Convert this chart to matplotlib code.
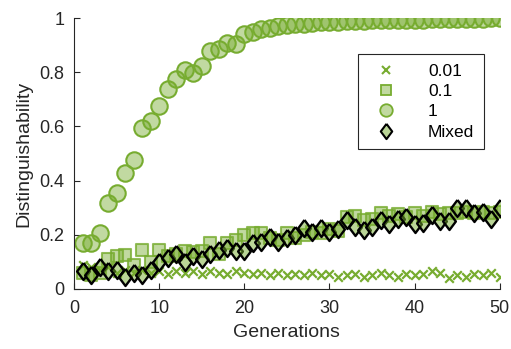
import numpy as np
import matplotlib
matplotlib.use("Agg")
import matplotlib.pyplot as plt
from matplotlib.lines import Line2D

plt.rcParams['font.family'] = ['Liberation Sans', 'DejaVu Sans']

generations = np.arange(1, 51)

# rate 0.01
d001 = [0.09, 0.08, 0.07, 0.08, 0.06, 0.07, 0.06, 0.07, 0.06, 0.065,
        0.055, 0.065, 0.06, 0.065, 0.055, 0.065, 0.06, 0.055, 0.065, 0.06,
        0.055, 0.06, 0.05, 0.06, 0.05, 0.055, 0.05, 0.06, 0.05, 0.055,
        0.045, 0.05, 0.055, 0.045, 0.05, 0.06, 0.05, 0.045, 0.055, 0.05,
        0.055, 0.065, 0.06, 0.04, 0.05, 0.045, 0.055, 0.05, 0.06, 0.045]
# rate 0.1
d01 = [0.06, 0.05, 0.06, 0.11, 0.12, 0.125, 0.09, 0.145, 0.1, 0.145,
       0.12, 0.13, 0.14, 0.135, 0.14, 0.17, 0.13, 0.17, 0.18, 0.2,
       0.205, 0.205, 0.19, 0.18, 0.205, 0.19, 0.2, 0.21, 0.207, 0.22,
       0.215, 0.265, 0.27, 0.255, 0.26, 0.28, 0.27, 0.275, 0.265, 0.28,
       0.27, 0.285, 0.275, 0.28, 0.28, 0.285, 0.28, 0.285, 0.28, 0.285]
# rate 1
d1 = [0.17, 0.17, 0.205, 0.316, 0.355, 0.43, 0.476, 0.593, 0.621, 0.674,
      0.74, 0.774, 0.808, 0.796, 0.823, 0.879, 0.885, 0.909, 0.906, 0.943,
      0.95, 0.96, 0.965, 0.97, 0.975, 0.978, 0.98, 0.983, 0.985, 0.985,
      0.987, 0.99, 0.99, 0.99, 0.992, 0.993, 0.993, 0.993, 0.994, 0.995,
      0.995, 0.996, 0.996, 0.998, 0.997, 0.998, 0.998, 0.998, 0.999, 1.0]
# mixed
dmix = [0.065, 0.05, 0.08, 0.065, 0.07, 0.045, 0.06, 0.05, 0.07, 0.1,
        0.115, 0.13, 0.1, 0.12, 0.11, 0.13, 0.144, 0.15, 0.14, 0.14,
        0.169, 0.175, 0.193, 0.175, 0.19, 0.2, 0.225, 0.21, 0.225, 0.21,
        0.22, 0.255, 0.23, 0.218, 0.23, 0.255, 0.24, 0.26, 0.267, 0.24,
        0.245, 0.273, 0.25, 0.25, 0.298, 0.298, 0.28, 0.285, 0.26, 0.298]

GREEN = (0.467, 0.675, 0.188)
FACE = (0.467, 0.675, 0.188, 0.45)
DIAMOND = [(0, 1), (0.75, 0), (0, -1), (-0.75, 0), (0, 1)]
DARK = '#262626'

fig = plt.figure(figsize=(5.11, 3.49), dpi=100)
ax = fig.add_axes([0.145, 0.172, 0.833, 0.776])

ax.scatter(generations, d001, s=38, marker='x', color=GREEN, linewidths=1.6, zorder=3)
ax.scatter(generations, d01, s=78, marker='s', facecolors=FACE,
           edgecolors=(0.467, 0.675, 0.188, 0.8), linewidths=1.5, zorder=2)
ax.scatter(generations, d1, s=140, marker='o', facecolors=FACE,
           edgecolors=GREEN, linewidths=1.5, zorder=2)
ax.scatter(generations, dmix, s=150, marker=DIAMOND, facecolors=(0.467, 0.675, 0.188, 0.5),
           edgecolors='black', linewidths=1.7, zorder=4)

ax.set_xlim(0, 50)
ax.set_ylim(0, 1)
ax.set_xticks([0, 10, 20, 30, 40, 50])
ax.set_yticks([0, 0.2, 0.4, 0.6, 0.8, 1])
ax.set_yticklabels(['0', '0.2', '0.4', '0.6', '0.8', '1'])
ax.tick_params(direction='in', length=4, width=0.8, colors=DARK, labelsize=13)
ax.tick_params(axis='x', pad=8)
ax.tick_params(axis='y', pad=7)
for side in ['top', 'right']:
    ax.spines[side].set_visible(False)
for side in ['left', 'bottom']:
    ax.spines[side].set_color(DARK)
    ax.spines[side].set_linewidth(0.8)
ax.set_xlabel('Generations', fontsize=14, color=DARK, labelpad=5)
ax.set_ylabel('Distinguishability', fontsize=14, color=DARK, labelpad=5)

handles = [
    Line2D([], [], ls='none', marker='x', color=GREEN, markersize=6, mew=1.5),
    Line2D([], [], ls='none', marker='s', markerfacecolor=FACE, markeredgecolor=GREEN,
           markersize=7, mew=1.3),
    Line2D([], [], ls='none', marker='o', markerfacecolor=FACE, markeredgecolor=GREEN,
           markersize=9, mew=1.3),
    Line2D([], [], ls='none', marker=DIAMOND, markerfacecolor=(0.467, 0.675, 0.188, 0.5),
           markeredgecolor='black', markersize=11, mew=1.5),
]
leg = ax.legend(handles, ['0.01', '0.1', '1', 'Mixed'], loc='upper left',
                bbox_to_anchor=(0.666, 0.868), fontsize=12.5, frameon=True,
                fancybox=False, edgecolor=DARK, framealpha=1,
                borderpad=0.55, labelspacing=0.3, handletextpad=1.3,
                handlelength=2.2, borderaxespad=0)
leg.get_frame().set_linewidth(0.8)

fig.savefig('out.png', dpi=100)
